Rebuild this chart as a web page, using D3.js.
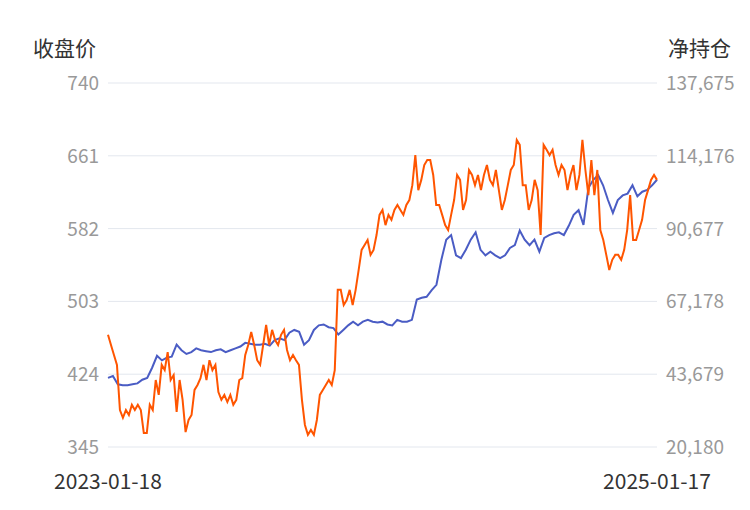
<!DOCTYPE html>
<html>
<head>
<meta charset="utf-8">
<script src="https://cdn.jsdelivr.net/npm/d3@7"></script>
<style>
  body { margin: 0; background: #fff; }
  text { font-family: "Noto Sans CJK SC", "Noto Sans", sans-serif; }
</style>
</head>
<body>
<script>
// tick labels
const leftTicks = [345, 424, 503, 582, 661, 740];
const rightTicks = [20180, 43679, 67178, 90677, 114176, 137675];
const dateLabels = ['2023-01-18', '2025-01-17'];

// close price (left axis)
const closePrice = [420, 422, 413, 412, 412, 413, 414, 418, 420, 431, 444, 439, 442, 443, 456, 450,
  446, 448, 452, 450, 449, 448, 450, 451, 448, 450, 452, 454, 458, 457, 456, 456, 457, 455, 461, 463,
  461, 469, 472, 470, 456, 461, 472, 477, 478, 475, 474, 467, 472, 477, 481, 477, 481, 483, 481, 480,
  481, 478, 477, 483, 481, 481, 483, 505, 507, 508, 515, 521, 548, 570, 575, 553, 550, 559, 570, 578,
  559, 553, 557, 553, 550, 553, 561, 564, 580, 570, 564, 570, 557, 572, 575, 577, 578, 575, 585, 597,
  602, 586, 626, 635, 640, 629, 613, 599, 613, 618, 620, 629, 617, 622, 624, 629, 635];

// net position, thousands (right axis)
const netPosition = [56.4, 53.1, 49.9, 46.7, 32.1, 29.6, 32.1, 30.5, 33.8, 32.1, 33.8, 32.1, 24.7, 24.7,
  33.8, 32.1, 41.8, 37.0, 46.7, 45.0, 50.8, 41.8, 43.4, 31.5, 41.8, 35.4, 25.0, 28.9, 30.5, 38.6, 40.2,
  42.4, 46.7, 41.8, 48.2, 45.0, 46.7, 37.9, 35.4, 37.0, 34.7, 37.0, 33.8, 35.4, 41.8, 42.4, 49.9, 53.1,
  57.3, 53.1, 48.2, 46.7, 53.1, 59.6, 53.1, 58.0, 54.7, 53.1, 56.4, 58.0, 51.5, 48.2, 49.9, 48.2, 46.7,
  35.4, 27.3, 24.1, 25.7, 24.1, 28.9, 37.0, 38.6, 40.2, 41.8, 40.2, 45.0, 70.9, 70.9, 66.0, 67.6, 70.9,
  66.0, 70.9, 77.3, 83.8, 85.4, 87.0, 82.2, 83.8, 88.6, 95.1, 96.7, 91.8, 95.1, 93.5, 96.7, 98.3, 96.7,
  95.1, 98.3, 99.9, 104.7, 114.4, 103.1, 106.4, 111.2, 112.8, 112.8, 108.0, 98.3, 98.3, 95.1, 91.8,
  90.2, 95.1, 99.9, 108.0, 106.4, 96.7, 99.9, 109.6, 108.0, 104.7, 108.0, 103.1, 108.0, 111.2, 106.4,
  104.7, 109.6, 103.1, 96.7, 99.9, 104.7, 109.6, 111.2, 119.3, 117.7, 104.7, 104.7, 96.7, 99.9, 106.4,
  103.1, 88.6, 117.7, 116.1, 114.4, 116.1, 111.2, 108.0, 111.2, 109.6, 103.1, 108.0, 111.2, 103.1,
  108.0, 119.3, 109.6, 101.5, 112.8, 101.5, 109.6, 90.2, 87.0, 82.2, 77.3, 80.6, 82.2, 82.2, 80.6,
  83.8, 90.2, 101.5, 87.0, 87.0, 90.2, 93.5, 99.9, 103.1, 106.4, 108.0, 106.4];

const width = 750;
const height = 510;
const plotLeft = 108, plotRight = 657, plotTop = 83, plotBottom = 447;

const svg = d3.select('body').append('svg')
  .attr('width', width)
  .attr('height', height);

const yLeft = d3.scaleLinear().domain([345, 740]).range([plotBottom, plotTop]);
const yRight = d3.scaleLinear().domain([20.18, 137.675]).range([plotBottom, plotTop]);
const xClose = d3.scaleLinear().domain([0, closePrice.length - 1]).range([plotLeft, plotRight]);
const xNet = d3.scaleLinear().domain([0, netPosition.length - 1]).range([plotLeft, plotRight]);

// grid lines
svg.selectAll('line.grid')
  .data(leftTicks)
  .enter()
  .append('line')
  .attr('x1', plotLeft).attr('x2', plotRight)
  .attr('y1', d => yLeft(d)).attr('y2', d => yLeft(d))
  .attr('stroke', '#e3e7ee')
  .attr('stroke-width', 1);

// left ticks
svg.selectAll('text.lt')
  .data(leftTicks)
  .enter()
  .append('text')
  .attr('x', 99)
  .attr('y', d => yLeft(d) + 7)
  .attr('text-anchor', 'end')
  .attr('font-size', 19)
  .attr('fill', '#999')
  .text(d => d);

// right ticks
svg.selectAll('text.rt')
  .data(rightTicks)
  .enter()
  .append('text')
  .attr('x', 666)
  .attr('y', d => yRight(d / 1000) + 7)
  .attr('font-size', 19)
  .attr('fill', '#999')
  .text(d => d3.format(',')(d));

// axis titles
svg.append('text').attr('x', 33).attr('y', 56).attr('font-size', 21).attr('fill', '#333').text('收盘价');
svg.append('text').attr('x', 731).attr('y', 56).attr('text-anchor', 'end').attr('font-size', 21).attr('fill', '#333').text('净持仓');

// date labels
svg.append('text').attr('x', plotLeft).attr('y', 489).attr('text-anchor', 'middle').attr('font-size', 21).attr('fill', '#333').text(dateLabels[0]);
svg.append('text').attr('x', plotRight).attr('y', 489).attr('text-anchor', 'middle').attr('font-size', 21).attr('fill', '#333').text(dateLabels[1]);

// lines
svg.append('path')
  .datum(closePrice)
  .attr('fill', 'none')
  .attr('stroke', '#4a5cc4')
  .attr('stroke-width', 2)
  .attr('d', d3.line().x((d, i) => xClose(i)).y(d => yLeft(d)));

svg.append('path')
  .datum(netPosition)
  .attr('fill', 'none')
  .attr('stroke', '#ff5500')
  .attr('stroke-width', 2)
  .attr('d', d3.line().x((d, i) => xNet(i)).y(d => yRight(d)));
</script>
</body>
</html>
